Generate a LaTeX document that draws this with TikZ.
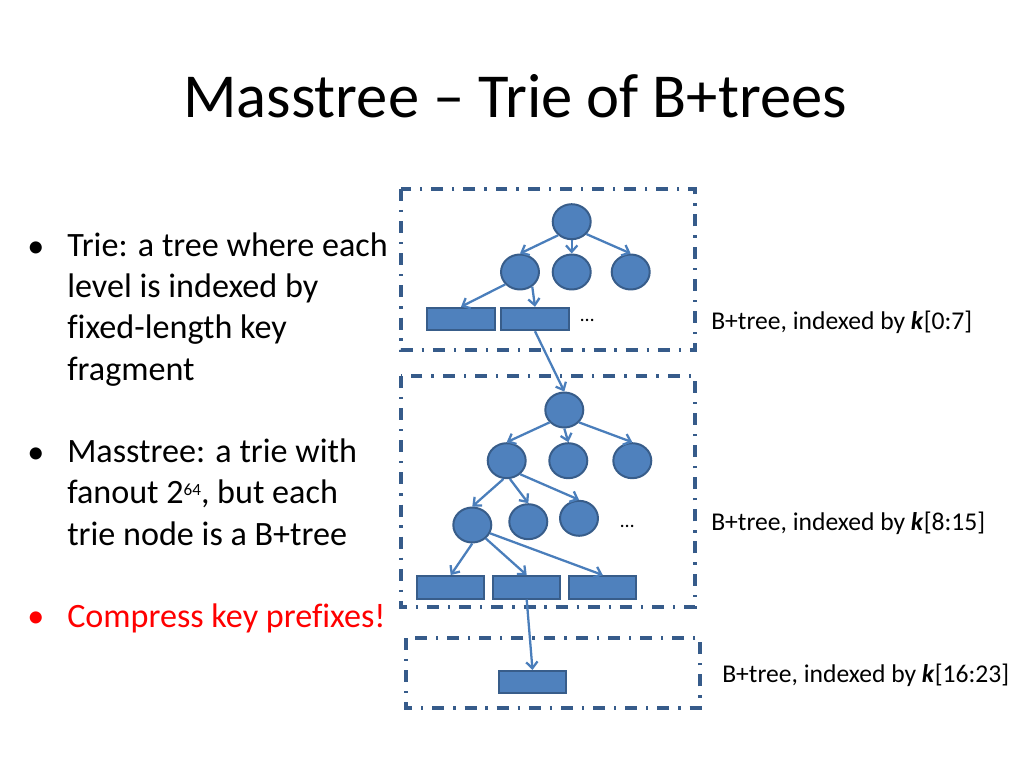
\documentclass[tikz,border=0pt]{standalone}
\usepackage{fontspec}
\setmainfont{Carlito}[Ligatures=NoCommon]
\usetikzlibrary{shapes.geometric,arrows.meta}
\definecolor{nodefill}{HTML}{4F81BD}
\definecolor{nodeline}{HTML}{385D8A}
\definecolor{linkblue}{HTML}{4A7EBB}
\definecolor{framecol}{HTML}{365B8A}
\begin{document}
\begin{tikzpicture}[x=0.703125pt,y=-0.703125pt,
  tnode/.style={ellipse,draw=nodeline,fill=nodefill,line width=1.4pt,minimum width=26.7pt,minimum height=24.6pt,inner sep=0pt},
  leaf/.style={rectangle,draw=nodeline,fill=nodefill,line width=1.4pt,minimum width=47.3pt,minimum height=15.8pt,inner sep=0pt},
  link/.style={draw=linkblue,line width=1.6pt,-{Straight Barb[length=4.5pt,width=8pt]}},
  frame/.style={draw=framecol,line width=2.2pt,dash pattern=on 8.4pt off 6.3pt on 1.6pt off 6.3pt},
  btext/.style={anchor=base west,align=left,inner sep=0pt,font=\fontsize{24}{29}\selectfont},
  bdot/.style={anchor=base west,inner sep=0pt,font=\fontsize{24}{29}\selectfont},
  more/.style={anchor=base west,inner sep=0pt,font=\fontsize{14}{17}\selectfont},
  lbl/.style={anchor=base west,inner sep=0pt,font=\fontsize{18}{22}\selectfont}]
\fill[white,use as bounding box] (0,0) rectangle (1024,768);
\node[anchor=base,inner sep=0pt,font=\fontsize{44}{53}\selectfont] (title) at (515,118) {Masstree – Trie of B+trees};

\node[bdot] (dot1) at (27,258) {•};
\node[btext] (item1) at (67,380) {Trie: a tree where each\\level is indexed by\\fixed-length key\\fragment};
\node[bdot] (dot2) at (27,463) {•};
\node[btext] (item2) at (67,545) {Masstree: a trie with\\fanout 2\raisebox{5.5pt}{\fontsize{12}{12}\selectfont 64}, but each\\trie node is a B+tree};
\node[bdot,text=red] (dot3) at (27,627) {•};
\node[btext,text=red] (item3) at (67,627) {Compress key prefixes!};

\draw[frame] (401,189) rectangle (695,350);
\draw[frame] (401,376) rectangle (695,607);
\draw[frame] (406,638) rectangle (700,708);

\node[tnode] (r1) at (571.7,221.7) {};
\node[tnode] (a1) at (520,272) {};
\node[tnode] (b1) at (571.7,272) {};
\node[tnode] (c1) at (630.7,272) {};
\node[leaf] (p1) at (461,319) {};
\node[leaf] (p2) at (535,319) {};
\node[more] (more1) at (580,322) {…};

\node[tnode] (r2) at (564.3,410) {};
\node[tnode] (a2) at (506.7,460.7) {};
\node[tnode] (b2) at (568.3,460.7) {};
\node[tnode] (c2) at (632.3,460.7) {};
\node[tnode] (d2) at (472.3,525) {};
\node[tnode] (e2) at (528.3,521.7) {};
\node[tnode] (f2) at (579,518.3) {};
\node[more] (more2) at (620,527) {…};
\node[leaf] (q1) at (450.7,587.3) {};
\node[leaf] (q2) at (526.7,587.3) {};
\node[leaf] (q3) at (602.8,587.3) {};

\node[leaf] (s3) at (532.5,682.2) {};

\draw[link] (r1.225) -- (a1.north);
\draw[link] (r1.south) -- (b1.north);
\draw[link] (r1.-40) -- (c1.north);
\draw[link] (a1.220) -- (p1.north);
\draw[link] (a1.-50) -- (p2.north);
\draw[link] (p2.south) -- (r2.north);
\draw[link] (r2.220) -- (a2.north);
\draw[link] (r2.south) -- (b2.north);
\draw[link] (r2.-40) -- (c2.north);
\draw[link] (a2.-100) -- (d2.north);
\draw[link] (a2.-80) -- (e2.north);
\draw[link] (a2.-45) -- (f2.north);
\draw[link] (d2.south) -- (q1.north);
\draw[link] (d2.-45) -- (q2.north);
\draw[link] (d2.-25) -- (q3.north);
\draw[link] (q2.south) -- (s3.north);

\node[lbl] (k1) at (711,330) {B+tree, indexed by \textbf{\textit{k}}[0:7]};
\node[lbl] (k2) at (711,530) {B+tree, indexed by \textbf{\textit{k}}[8:15]};
\node[lbl] (k3) at (722,682) {B+tree, indexed by \textbf{\textit{k}}[16:23]};
\end{tikzpicture}
\end{document}
